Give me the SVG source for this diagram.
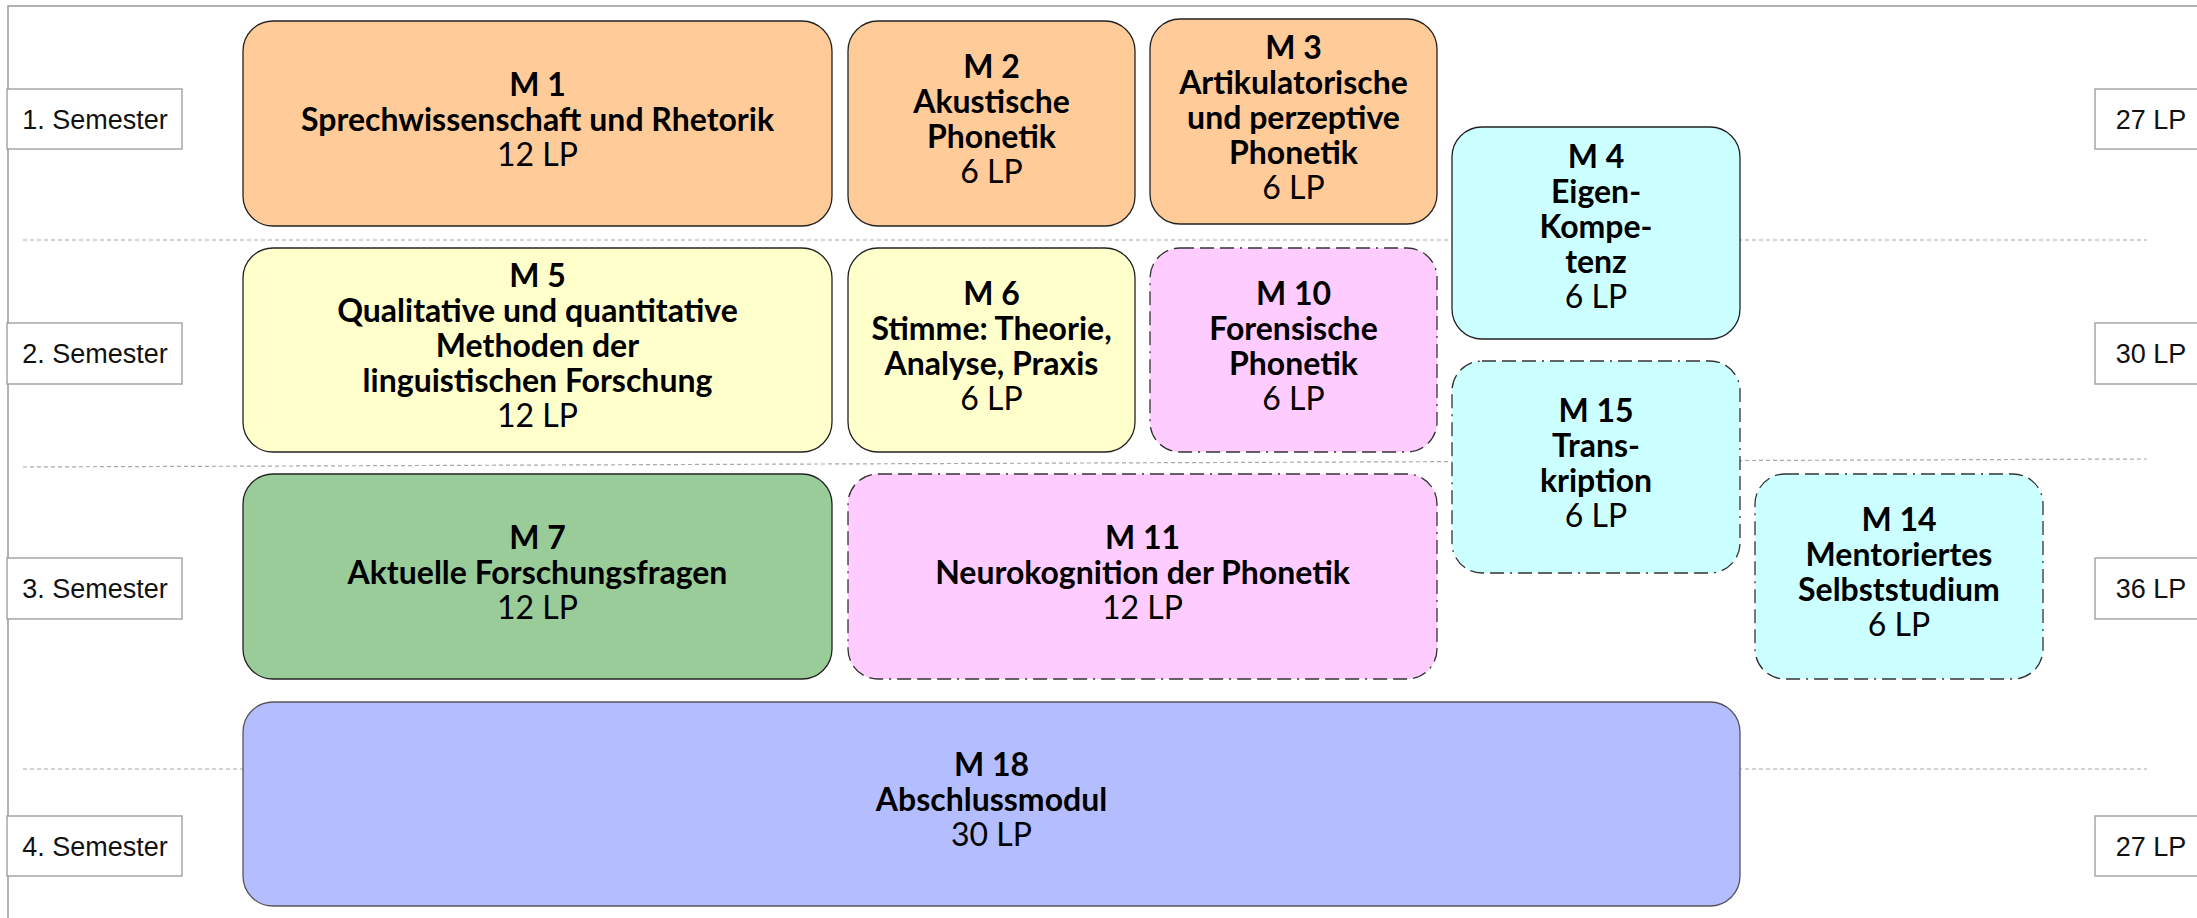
<svg xmlns="http://www.w3.org/2000/svg" width="2197" height="918" viewBox="0 0 2197 918">
<style>
.frame{fill:none;stroke:#999;stroke-width:1.5}
.sep{fill:none;stroke:#aaa;stroke-width:1.2;stroke-dasharray:4 3}
.lbl{fill:#fff;stroke:#999;stroke-width:1.3}
.lt{font-family:"Liberation Sans",Arial,sans-serif;font-size:27px;fill:#111;text-anchor:middle}
.box{stroke:#222;stroke-width:1.3}
.opt{stroke:#333;stroke-width:1.3;stroke-dasharray:14 6 14 6 14 6 2 6}
.t{font-family:Lato,"Noto Sans",sans-serif;font-size:32px;fill:#000;text-anchor:middle}
.b{font-weight:bold}
.orange{fill:#FFCC99}.yellow{fill:#FFFFCC}.pink{fill:#FFCCFF}.cyan{fill:#CCFFFF}.green{fill:#99CC99}.blue{fill:#B4BEFF;stroke:#555}
</style>
<rect x="0" y="0" width="2197" height="918" fill="#fff"/>
<rect class="frame" x="8" y="6" width="2300" height="1000"/>
<g id="separators">
<line class="sep" x1="23" y1="240" x2="2147" y2="240"/>
<line class="sep" x1="23" y1="467" x2="2147" y2="459"/>
<line class="sep" x1="23" y1="769" x2="2147" y2="769"/>
</g>
<g id="sem1"><rect class="lbl" x="7" y="89" width="175" height="60"/><text class="lt" x="95" y="128.5">1. Semester</text></g>
<g id="sem2"><rect class="lbl" x="7" y="323" width="175" height="61"/><text class="lt" x="95" y="363">2. Semester</text></g>
<g id="sem3"><rect class="lbl" x="7" y="558" width="175" height="61"/><text class="lt" x="95" y="598">3. Semester</text></g>
<g id="sem4"><rect class="lbl" x="7" y="816" width="175" height="60"/><text class="lt" x="95" y="855.5">4. Semester</text></g>
<g id="lp1"><rect class="lbl" x="2095" y="89" width="112" height="60"/><text class="lt" x="2151" y="128.5">27 LP</text></g>
<g id="lp2"><rect class="lbl" x="2095" y="323" width="112" height="61"/><text class="lt" x="2151" y="363">30 LP</text></g>
<g id="lp3"><rect class="lbl" x="2095" y="558" width="112" height="61"/><text class="lt" x="2151" y="598">36 LP</text></g>
<g id="lp4"><rect class="lbl" x="2095" y="816" width="112" height="60"/><text class="lt" x="2151" y="855.5">27 LP</text></g>
<g id="connectors"></g>
<g id="m1"><rect class="box orange" x="243" y="21" width="589" height="205" rx="30"/>
<text class="t b" x="537.5" y="95.5">M 1</text><text class="t b" x="537.5" y="130.5">Sprechwissenschaft und Rhetorik</text><text class="t" x="537.5" y="165.5">12 LP</text></g>
<g id="m2"><rect class="box orange" x="848" y="21" width="287" height="205" rx="30"/>
<text class="t b" x="991.5" y="78">M 2</text><text class="t b" x="991.5" y="113">Akustische</text><text class="t b" x="991.5" y="148">Phonetik</text><text class="t" x="991.5" y="183">6 LP</text></g>
<g id="m3"><rect class="box orange" x="1150" y="19" width="287" height="205" rx="30"/>
<text class="t b" x="1293.5" y="58.5">M 3</text><text class="t b" x="1293.5" y="93.5">Artikulatorische</text><text class="t b" x="1293.5" y="128.5">und perzeptive</text><text class="t b" x="1293.5" y="163.5">Phonetik</text><text class="t" x="1293.5" y="198.5">6 LP</text></g>
<g id="m4"><rect class="box cyan" x="1452" y="127" width="288" height="212" rx="30"/>
<text class="t b" x="1596" y="168">M 4</text><text class="t b" x="1596" y="203">Eigen-</text><text class="t b" x="1596" y="238">Kompe-</text><text class="t b" x="1596" y="273">tenz</text><text class="t" x="1596" y="308">6 LP</text></g>
<g id="m5"><rect class="box yellow" x="243" y="248" width="589" height="204" rx="30"/>
<text class="t b" x="537.5" y="287">M 5</text><text class="t b" x="537.5" y="322">Qualitative und quantitative</text><text class="t b" x="537.5" y="357">Methoden der</text><text class="t b" x="537.5" y="392">linguistischen Forschung</text><text class="t" x="537.5" y="427">12 LP</text></g>
<g id="m6"><rect class="box yellow" x="848" y="248" width="287" height="204" rx="30"/>
<text class="t b" x="991.5" y="304.5">M 6</text><text class="t b" x="991.5" y="339.5">Stimme: Theorie,</text><text class="t b" x="991.5" y="374.5">Analyse, Praxis</text><text class="t" x="991.5" y="409.5">6 LP</text></g>
<g id="m10"><rect class="opt pink" x="1150" y="248" width="287" height="204" rx="30"/>
<text class="t b" x="1293.5" y="304.5">M 10</text><text class="t b" x="1293.5" y="339.5">Forensische</text><text class="t b" x="1293.5" y="374.5">Phonetik</text><text class="t" x="1293.5" y="409.5">6 LP</text></g>
<g id="m15"><rect class="opt cyan" x="1452" y="361" width="288" height="212" rx="30"/>
<text class="t b" x="1596" y="421.5">M 15</text><text class="t b" x="1596" y="456.5">Trans-</text><text class="t b" x="1596" y="491.5">kription</text><text class="t" x="1596" y="526.5">6 LP</text></g>
<g id="m7"><rect class="box green" x="243" y="474" width="589" height="205" rx="30"/>
<text class="t b" x="537.5" y="548.5">M 7</text><text class="t b" x="537.5" y="583.5">Aktuelle Forschungsfragen</text><text class="t" x="537.5" y="618.5">12 LP</text></g>
<g id="m11"><rect class="opt pink" x="848" y="474" width="589" height="205" rx="30"/>
<text class="t b" x="1142.5" y="548.5">M 11</text><text class="t b" x="1142.5" y="583.5">Neurokognition der Phonetik</text><text class="t" x="1142.5" y="618.5">12 LP</text></g>
<g id="m14"><rect class="opt cyan" x="1755" y="474" width="288" height="205" rx="30"/>
<text class="t b" x="1899" y="531">M 14</text><text class="t b" x="1899" y="566">Mentoriertes</text><text class="t b" x="1899" y="601">Selbststudium</text><text class="t" x="1899" y="636">6 LP</text></g>
<g id="m18"><rect class="box blue" x="243" y="702" width="1497" height="204" rx="30"/>
<text class="t b" x="991.5" y="776">M 18</text><text class="t b" x="991.5" y="811">Abschlussmodul</text><text class="t" x="991.5" y="846">30 LP</text></g>
</svg>
